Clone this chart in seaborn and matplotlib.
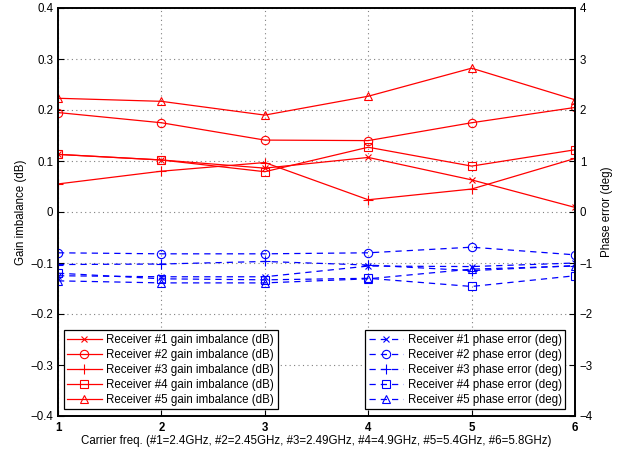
import matplotlib
matplotlib.use("Agg")
import matplotlib.pyplot as plt
import seaborn as sns
import numpy as np

carrier = [1, 2, 3, 4, 5, 6]

gain_r1 = [0.113, 0.102, 0.086, 0.107, 0.063, 0.009]
gain_r2 = [0.195, 0.175, 0.141, 0.140, 0.175, 0.205]
gain_r3 = [0.055, 0.080, 0.097, 0.024, 0.045, 0.105]
gain_r4 = [0.113, 0.102, 0.079, 0.127, 0.090, 0.122]
gain_r5 = [0.223, 0.217, 0.190, 0.227, 0.282, 0.220]

phase_r1 = [-1.25, -1.27, -1.27, -1.06, -1.07, -1.00]
phase_r2 = [-0.80, -0.82, -0.82, -0.80, -0.69, -0.84]
phase_r3 = [-1.03, -1.02, -0.97, -1.04, -1.15, -1.05]
phase_r4 = [-1.20, -1.31, -1.33, -1.30, -1.46, -1.25]
phase_r5 = [-1.35, -1.39, -1.39, -1.31, -1.12, -1.06]

gain_labels = [f"Receiver #{i} gain imbalance (dB)" for i in range(1, 6)]
phase_labels = [f"Receiver #{i} phase error (deg)" for i in range(1, 6)]
markers = ["x", "o", "+", "s", "^"]
msizes = [4.5, 6, 7, 5.5, 6]

plt.rcParams["font.family"] = ["Liberation Sans", "DejaVu Sans"]
plt.rcParams["xtick.direction"] = "in"
plt.rcParams["ytick.direction"] = "in"

FS = 8.3

fig = plt.figure(figsize=(6.18, 4.51), dpi=100)
ax = fig.add_axes([58/618, 35/451, 517/618, 408/451])
ax2 = ax.twinx()

gains = [gain_r1, gain_r2, gain_r3, gain_r4, gain_r5]
phases = [phase_r1, phase_r2, phase_r3, phase_r4, phase_r5]

for g, m, ms, lab in zip(gains, markers, msizes, gain_labels):
    sns.lineplot(x=carrier, y=g, ax=ax, color="#ff0000", linewidth=0.9,
                 marker=m, markersize=ms,
                 markerfacecolor="none", markeredgecolor="#ff0000",
                 markeredgewidth=0.8, label=lab)

for p, m, ms, lab in zip(phases, markers, msizes, phase_labels):
    sns.lineplot(x=carrier, y=p, ax=ax2, color="#0000ff", linewidth=0.9,
                 linestyle=(0, (5, 4)),
                 marker=m, markersize=ms,
                 markerfacecolor="none", markeredgecolor="#0000ff",
                 markeredgewidth=0.8, label=lab)

ax.set_xlim(1, 6)
ax.set_ylim(-0.4, 0.4)
ax2.set_ylim(-4, 4)
ax.set_xticks(carrier)
ax.set_yticks(np.round(np.arange(-0.4, 0.41, 0.1), 1))
ax2.set_yticks(range(-4, 5))
ax.set_yticklabels(["\u22120.4", "\u22120.3", "\u22120.2", "\u22120.1", "0", "0.1", "0.2", "0.3", "0.4"])
ax2.set_yticklabels(["\u22124", "\u22123", "\u22122", "\u22121", "0", "1", "2", "3", "4"])
ax.set_xticklabels([str(c) for c in carrier], fontweight="bold")

ax.grid(True, linestyle=(0, (1, 3)), color="#808080", linewidth=0.8)
ax.tick_params(axis="both", labelsize=FS, length=4, width=0.8)
ax2.tick_params(axis="y", labelsize=FS, length=4, width=0.8)
ax.tick_params(axis="x", pad=4)
for a in (ax, ax2):
    for s in a.spines.values():
        s.set_linewidth(1.2)
        s.set_color("black")

ax.set_xlabel("Carrier freq. (#1=2.4GHz, #2=2.45GHz, #3=2.49GHz, #4=4.9GHz, #5=5.4GHz, #6=5.8GHz)", fontsize=FS, labelpad=1)
ax.set_ylabel("Gain imbalance (dB)", fontsize=FS, labelpad=2)
ax2.set_ylabel("Phase error (deg)", fontsize=FS, labelpad=6)

h1, l1 = ax.get_legend_handles_labels()
h2, l2 = ax2.get_legend_handles_labels()
if ax.get_legend():
    ax.get_legend().remove()
if ax2.get_legend():
    ax2.get_legend().remove()

common = dict(fontsize=FS, frameon=True, fancybox=False, edgecolor="black",
              borderaxespad=0, handlelength=3.0, labelspacing=0.26,
              borderpad=0.3, handletextpad=0.4, framealpha=1)
leg1 = ax2.legend(h1, l1, loc="lower left", bbox_to_anchor=(0.011, 0.017), **common)
leg1.get_frame().set_linewidth(0.9)
ax2.add_artist(leg1)
leg2 = ax2.legend(h2, l2, loc="lower right", bbox_to_anchor=(0.981, 0.017), **common)
leg2.get_frame().set_linewidth(0.9)

fig.savefig("out.png", dpi=100)
